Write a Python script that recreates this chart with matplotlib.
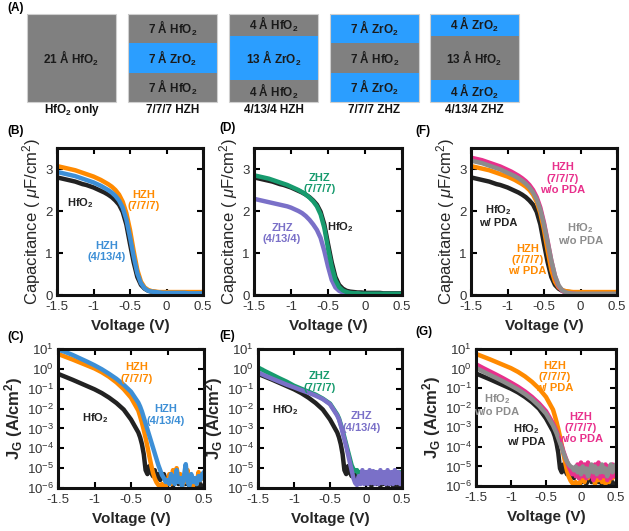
import numpy as np
import matplotlib
matplotlib.use('Agg')
import matplotlib.pyplot as plt
from matplotlib.patches import Rectangle
from matplotlib.ticker import NullLocator

plt.rcParams['font.family'] = ['Liberation Sans', 'DejaVu Sans']
plt.rcParams['mathtext.fontset'] = 'custom'
plt.rcParams['mathtext.rm'] = 'Liberation Sans'
plt.rcParams['mathtext.it'] = 'Liberation Sans:italic'
plt.rcParams['mathtext.bf'] = 'Liberation Sans:bold'
plt.rcParams['mathtext.default'] = 'regular'
plt.rcParams['axes.unicode_minus'] = False

# ---- (A) stacks ----
stack_names = ['HfO$_2$ only', '7/7/7 HZH', '4/13/4 HZH', '7/7/7 ZHZ', '4/13/4 ZHZ']
stack_mats = [['HfO2'], ['HfO2', 'ZrO2', 'HfO2'], ['HfO2', 'ZrO2', 'HfO2'],
              ['ZrO2', 'HfO2', 'ZrO2'], ['ZrO2', 'HfO2', 'ZrO2']]
stack_thick = [[21], [7, 7, 7], [4, 13, 4], [7, 7, 7], [4, 13, 4]]

# ---- C-V data (uF/cm2) ----
v_cv = [-1.5, -1.45, -1.4, -1.35, -1.3, -1.25, -1.2, -1.15, -1.1, -1.05,
        -1.0, -0.95, -0.9, -0.85, -0.8, -0.75, -0.7, -0.65, -0.6, -0.55,
        -0.5, -0.45, -0.4, -0.35, -0.3, -0.25, -0.2, -0.15, -0.1, -0.05,
        0.0,
        0.05, 0.1, 0.15, 0.2, 0.25, 0.3, 0.35, 0.4, 0.45, 0.5]
c_hfo2 = [2.80, 2.78, 2.76, 2.74, 2.72, 2.70, 2.67, 2.64, 2.62, 2.59,
          2.56, 2.52, 2.48, 2.44, 2.39, 2.33, 2.25, 2.15, 1.98, 1.68,
          1.22, 0.78, 0.43, 0.24, 0.15, 0.10, 0.08, 0.07, 0.06, 0.06,
          0.05,
          0.05, 0.05, 0.05, 0.05, 0.04, 0.04, 0.04, 0.04, 0.04, 0.04]
c_hzh777 = [3.07, 3.05, 3.03, 3.01, 2.99, 2.97, 2.94, 2.91, 2.88, 2.85,
            2.82, 2.78, 2.74, 2.69, 2.64, 2.58, 2.50, 2.39, 2.22, 1.95,
            1.55, 1.05, 0.60, 0.32, 0.18, 0.12, 0.09, 0.08, 0.07, 0.07,
            0.07,
            0.07, 0.07, 0.07, 0.07, 0.07, 0.07, 0.07, 0.07, 0.07, 0.07]
c_hzh4134 = [2.93, 2.91, 2.89, 2.87, 2.85, 2.83, 2.80, 2.77, 2.74, 2.71,
             2.68, 2.64, 2.60, 2.55, 2.50, 2.44, 2.36, 2.25, 2.08, 1.80,
             1.38, 0.92, 0.52, 0.28, 0.16, 0.10, 0.08, 0.07, 0.06, 0.05,
             0.05,
             0.05, 0.05, 0.05, 0.05, 0.05, 0.04, 0.04, 0.04, 0.04, 0.04]
c_zhz777 = [2.85, 2.83, 2.81, 2.79, 2.77, 2.74, 2.71, 2.68, 2.65, 2.62,
            2.58, 2.54, 2.50, 2.45, 2.39, 2.32, 2.23, 2.11, 1.92, 1.60,
            1.12, 0.68, 0.36, 0.19, 0.11, 0.07, 0.05, 0.04, 0.04, 0.03,
            0.03,
            0.03, 0.03, 0.03, 0.03, 0.03, 0.03, 0.03, 0.03, 0.03, 0.03]
c_zhz4134 = [2.29, 2.27, 2.25, 2.23, 2.21, 2.19, 2.17, 2.15, 2.13, 2.11,
             2.08, 2.04, 2.00, 1.95, 1.88, 1.79, 1.68, 1.55, 1.36, 1.05,
             0.68, 0.36, 0.18, 0.10, 0.06, 0.04, 0.03, 0.03, 0.03, 0.02,
             0.02,
             0.02, 0.02, 0.02, 0.02, 0.02, 0.02, 0.02, 0.02, 0.02, 0.02]
c_hzh777_nopda = [3.27, 3.25, 3.23, 3.21, 3.18, 3.15, 3.12, 3.09, 3.06, 3.02,
                  2.98, 2.94, 2.89, 2.84, 2.78, 2.71, 2.62, 2.50, 2.33, 2.08,
                  1.72, 1.28, 0.82, 0.45, 0.21, 0.10, 0.05, 0.03, 0.03, 0.02,
                  0.02,
                  0.02, 0.02, 0.02, 0.02, 0.02, 0.02, 0.02, 0.02, 0.02, 0.02]
c_hfo2_nopda = [3.20, 3.18, 3.16, 3.14, 3.11, 3.08, 3.05, 3.02, 2.99, 2.95,
                2.91, 2.87, 2.83, 2.78, 2.72, 2.65, 2.56, 2.44, 2.28, 2.03,
                1.68, 1.25, 0.82, 0.46, 0.23, 0.11, 0.06, 0.04, 0.03, 0.03,
                0.03,
                0.03, 0.03, 0.03, 0.03, 0.03, 0.03, 0.03, 0.03, 0.03, 0.03]

# ---- J-V data (log10 of A/cm2) ----
v_iv = [-1.5, -1.4, -1.3, -1.2, -1.1, -1.0, -0.9, -0.8, -0.7, -0.6, -0.5, -0.4,
        -0.375, -0.35, -0.325, -0.3, -0.275, -0.25, -0.225, -0.2, -0.175, -0.15, -0.125, -0.1,
        -0.075, -0.05, -0.025, 0.0, 0.025, 0.05, 0.075, 0.1, 0.125, 0.15, 0.175, 0.2,
        0.225, 0.25, 0.275, 0.3, 0.325, 0.35, 0.375, 0.4, 0.425, 0.45, 0.475, 0.5]
logj_hfo2 = [-0.25, -0.40, -0.55, -0.71, -0.87, -1.03, -1.22, -1.45, -1.72, -2.05, -2.55, -3.20,
             -3.45, -3.80, -4.30, -5.10, -5.30, -4.90, -5.20, -5.40, -5.10, -5.50, -5.30, -5.60,
             -5.40, -5.30, -5.60, -5.50, -5.80, -5.50, -5.90, -5.60, -5.40, -5.80, -5.60, -5.90,
             -5.50, -5.80, -5.60, -5.95, -5.70, -5.50, -5.90, -5.70, -5.95, -5.80, -5.95, -5.90]
logj_hzh777 = [0.75, 0.61, 0.47, 0.32, 0.17, 0.02, -0.17, -0.40, -0.68, -1.02, -1.45, -2.10,
               -2.40, -2.72, -3.08, -3.48, -3.92, -4.38, -4.82, -5.22, -5.52, -5.72, -5.85, -5.90,
               -5.80, -5.92, -5.95, -5.70, -5.30, -5.80, -5.10, -5.60, -5.00, -5.50, -5.30, -5.90,
               -5.40, -5.70, -5.10, -5.80, -5.50, -5.90, -5.60, -5.80, -5.20, -5.60, -5.30, -5.50]
logj_hzh4134 = [0.97, 0.85, 0.70, 0.53, 0.36, 0.18, -0.02, -0.25, -0.50, -0.80, -1.15, -1.70,
                -1.90, -2.15, -2.45, -2.75, -3.05, -3.35, -3.65, -3.95, -4.25, -4.55, -4.85, -5.10,
                -5.35, -5.50, -5.70, -5.60, -5.80, -5.30, -5.60, -5.80, -5.10, -5.70, -5.50, -5.90,
                -5.40, -4.80, -5.70, -5.90, -5.30, -5.70, -5.50, -5.80, -5.40, -5.60, -5.30, -5.20]
logj_zhz777 = [0.07, -0.12, -0.30, -0.48, -0.65, -0.85, -1.00, -1.15, -1.30, -1.50, -1.75, -2.30,
               -2.50, -2.80, -3.10, -3.45, -3.80, -4.15, -4.50, -4.85, -5.05, -5.15, -5.10, -5.30,
               -5.20, -5.40, -5.30, -5.20, -5.40, -5.30, -5.50, -5.30, -5.20, -5.40, -5.30, -5.50,
               -5.30, -5.40, -5.20, -5.40, -5.30, -5.50, -5.30, -5.20, -5.40, -5.20, -5.25, -5.20]
logj_zhz4134 = [-0.18, -0.35, -0.50, -0.65, -0.80, -0.93, -1.07, -1.20, -1.35, -1.52, -1.78, -2.35,
                -2.55, -2.85, -3.20, -3.55, -3.90, -4.30, -4.70, -5.10, -5.50, -5.75, -5.85, -5.40,
                -5.80, -5.10, -5.80, -5.20, -5.80, -5.10, -5.75, -5.15, -5.80, -5.20, -5.80, -5.10,
                -5.75, -5.20, -5.80, -5.10, -5.80, -5.20, -5.80, -5.10, -5.75, -5.20, -5.80, -5.30]
logj_hzh777_nopda = [0.22, 0.03, -0.15, -0.33, -0.52, -0.72, -0.93, -1.17, -1.45, -1.78, -2.18, -2.80,
                     -3.00, -3.20, -3.45, -3.70, -3.95, -4.25, -4.50, -4.75, -5.00, -5.20, -5.40, -5.10,
                     -5.50, -4.90, -5.60, -4.80, -5.50, -4.90, -5.60, -4.80, -5.50, -5.00, -5.70, -4.90,
                     -5.50, -4.80, -5.60, -5.00, -5.50, -4.90, -5.70, -5.00, -5.60, -4.90, -5.50, -5.00]
logj_hfo2_nopda = [0.03, -0.15, -0.33, -0.50, -0.68, -0.87, -1.07, -1.30, -1.57, -1.90, -2.30, -2.90,
                   -3.10, -3.30, -3.55, -3.80, -4.05, -4.30, -4.55, -4.75, -4.90, -5.00, -5.05, -5.20,
                   -5.00, -5.30, -5.10, -5.40, -5.00, -5.30, -5.10, -5.50, -5.20, -4.90, -5.30, -5.00,
                   -5.40, -5.10, -5.30, -4.90, -5.30, -5.10, -5.50, -5.20, -4.90, -5.30, -5.00, -4.90]

# colours
k_col = '#222222'
or_col = '#FF8A00'
bl_col = '#3D8FD6'
gr_col = '#179B6E'
pu_col = '#7A70C8'
mg_col = '#E8308C'
gy_col = '#8C8C8C'
mat_col = {'HfO2': '#808080', 'ZrO2': '#2B9EFF'}
mat_lab = {'HfO2': 'HfO$_2$', 'ZrO2': 'ZrO$_2$'}

W, H = 629, 531
fig = plt.figure(figsize=(W / 100, H / 100), dpi=100)


def px_axes(x0, y0, x1, y1):
    return fig.add_axes([x0 / W, 1 - y1 / H, (x1 - x0) / W, (y1 - y0) / H])


# ---- panel A ----
axA = fig.add_axes([0, 1 - 125 / H, 1, 125 / H])
axA.set_xlim(0, W)
axA.set_ylim(125, 0)
axA.axis('off')
box_left = [27, 128, 229, 330, 430]
bw, btop, bh = 89, 14, 88
for x0, name, mats, thick in zip(box_left, stack_names, stack_mats, stack_thick):
    hh = np.array(thick, float) ** 0.6
    hh = hh / hh.sum() * bh
    y = btop
    for m, t, h in zip(mats, thick, hh):
        axA.add_patch(Rectangle((x0, y), bw, h, facecolor=mat_col[m], edgecolor='none'))
        axA.text(x0 + bw / 2, y + h / 2, f'{t} Å {mat_lab[m]}', ha='center', va='center',
                 fontsize=8.5, fontweight='bold', color='#1a1a1a')
        y += h
    axA.add_patch(Rectangle((x0, btop), bw, bh, fill=False, edgecolor='#cfcfcf', lw=0.8))
    axA.text(x0 + bw / 2, 110, name, ha='center', va='center', fontsize=8.5,
             fontweight='bold', color='#111111')
fig.text(7 / W, 1 - 8 / H, '(A)', fontsize=8.5, fontweight='bold', va='center')


def style(ax, log=False):
    ax.set_xlim(-1.5, 0.5)
    ax.set_xticks([-1.5, -1, -0.5, 0, 0.5])
    ax.set_xticklabels(['-1.5', '-1', '-0.5', '0', '0.5'])
    if log:
        ax.set_yscale('log')
        ax.set_ylim(1e-6, 1e1)
        ax.set_yticks([10.0 ** k for k in range(-6, 2)])
        ax.yaxis.set_minor_locator(NullLocator())
        ax.set_ylabel('J$_G$ (A/cm$^2$)', fontsize=12, fontweight='bold',
                      color='#262626', labelpad=1)
    else:
        ax.set_ylim(0, 3.5)
        ax.set_yticks([0, 1, 2, 3])
        ax.set_ylabel('Capacitance ( $\\mathit{\\mu}$F/cm$^2$)', fontsize=12,
                      color='#262626', labelpad=2)
    ax.tick_params(direction='in', top=True, right=True, length=4, width=1.5,
                   labelsize=9.5, labelcolor='#333333', pad=3)
    ax.tick_params(axis='x', pad=4.5)
    for s in ax.spines.values():
        s.set_linewidth(2.2)
        s.set_color('#111111')
    ax.set_xlabel('Voltage (V)', fontsize=11, fontweight='bold', color='#262626', labelpad=4)


def note(ax, x, y, s, c):
    ax.text(x, y, s, color=c, fontsize=8, fontweight='bold', ha='center', va='center',
            linespacing=1.15)


lw = 3.2
jv = lambda a: 10.0 ** np.array(a)

# (B)
axB = px_axes(57, 148, 203, 295)
axB.plot(v_cv, c_hfo2, color=k_col, lw=lw)
axB.plot(v_cv, c_hzh777, color=or_col, lw=lw)
axB.plot(v_cv, c_hzh4134, color=bl_col, lw=lw)
style(axB)
note(axB, -0.31, 2.25, 'HZH\n(7/7/7)', or_col)
note(axB, -0.82, 1.04, 'HZH\n(4/13/4)', bl_col)
note(axB, -1.18, 2.2, 'HfO$_2$', k_col)

# (D)
axD = px_axes(254, 148, 402, 295)
axD.plot(v_cv, c_hfo2, color=k_col, lw=lw)
axD.plot(v_cv, c_zhz4134, color=pu_col, lw=lw)
axD.plot(v_cv, c_zhz777, color=gr_col, lw=lw)
style(axD)
note(axD, -0.61, 2.65, 'ZHZ\n(7/7/7)', gr_col)
note(axD, -1.12, 1.47, 'ZHZ\n(4/13/4)', pu_col)
note(axD, -0.34, 1.61, 'HfO$_2$', k_col)

# (F)
axF = px_axes(471, 148, 617, 295)
axF.plot(v_cv, c_hfo2, color=k_col, lw=lw)
axF.plot(v_cv, c_hzh777, color=or_col, lw=lw)
axF.plot(v_cv, c_hzh777_nopda, color=mg_col, lw=lw)
axF.plot(v_cv, c_hfo2_nopda, color=gy_col, lw=lw)
style(axF)
note(axF, -0.25, 2.77, 'HZH\n(7/7/7)\nw/o PDA', mg_col)
note(axF, -1.13, 1.89, 'HfO$_2$\nw/ PDA', k_col)
note(axF, 0.0, 1.47, 'HfO$_2$\nw/o PDA', gy_col)
note(axF, -0.73, 0.83, 'HZH\n(7/7/7)\nw/ PDA', or_col)

# (C)
axC = px_axes(58, 349, 204, 488)
axC.plot(v_iv, jv(logj_hfo2), color=k_col, lw=lw)
axC.plot(v_iv, jv(logj_hzh777), color=or_col, lw=lw)
axC.plot(v_iv, jv(logj_hzh4134), color=bl_col, lw=lw)
style(axC, log=True)
note(axC, -0.42, 10 ** -0.21, 'HZH\n(7/7/7)', or_col)
note(axC, -0.03, 10 ** -2.32, 'HZH\n(4/13/4)', bl_col)
note(axC, -0.99, 10 ** -2.47, 'HfO$_2$', k_col)

# (E)
axE = px_axes(258, 349, 402, 488)
axE.plot(v_iv, jv(logj_hfo2), color=k_col, lw=lw)
axE.plot(v_iv, jv(logj_zhz777), color=gr_col, lw=lw)
axE.plot(v_iv, jv(logj_zhz4134), color=pu_col, lw=lw)
style(axE, log=True)
note(axE, -0.64, 10 ** -0.66, 'ZHZ\n(7/7/7)', gr_col)
note(axE, -0.06, 10 ** -2.68, 'ZHZ\n(4/13/4)', pu_col)
note(axE, -1.12, 10 ** -2.07, 'HfO$_2$', k_col)

# (G)
axG = px_axes(476, 349, 616, 486)
axG.plot(v_iv, jv(logj_hfo2), color=k_col, lw=lw)
axG.plot(v_iv, jv(logj_hzh777), color=or_col, lw=lw)
axG.plot(v_iv, jv(logj_hzh777_nopda), color=mg_col, lw=lw)
axG.plot(v_iv, jv(logj_hfo2_nopda), color=gy_col, lw=lw)
style(axG, log=True)
note(axG, -0.38, 10 ** -0.43, 'HZH\n(7/7/7)\nw/ PDA', or_col)
note(axG, -1.2, 10 ** -1.86, 'HfO$_2$\nw/o PDA', gy_col)
note(axG, 0.0, 10 ** -3.04, 'HZH\n(7/7/7)\nw/o PDA', mg_col)
note(axG, -0.78, 10 ** -3.39, 'HfO$_2$\nw/ PDA', k_col)

# panel letters
for lab, x, y in [('(B)', 7, 131), ('(D)', 219, 128), ('(F)', 415, 131),
                  ('(C)', 7, 337), ('(E)', 219, 336), ('(G)', 415, 332)]:
    fig.text(x / W, 1 - y / H, lab, fontsize=8.5, fontweight='bold', va='center')

fig.savefig('out.png', dpi=100)
